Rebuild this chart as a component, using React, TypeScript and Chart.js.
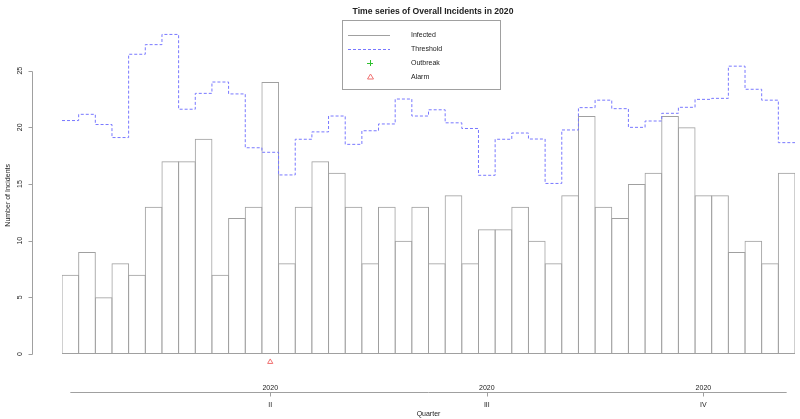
import React, { useEffect, useRef } from "react";
import { Chart, registerables } from "chart.js";

Chart.register(...registerables);

const chartTitle = "Time series of Overall Incidents in 2020";
const yAxisTitle = "Number of Incidents";
const xAxisTitle = "Quarter";

const infected = [7, 9, 5, 8, 7, 13, 17, 17, 19, 7, 12, 13, 24, 8, 13, 17, 16, 13, 8, 13, 10, 13, 8, 14, 8, 11, 11, 13, 10, 8, 14, 21, 13, 12, 15, 16, 21, 20, 14, 14, 9, 10, 8, 16];
const threshold = [20.6, 21.15, 20.25, 19.1, 26.45, 27.3, 28.2, 21.6, 23.0, 24.0, 22.95, 18.2, 17.8, 15.8, 18.95, 19.6, 21.0, 18.5, 19.7, 20.3, 22.5, 21.0, 21.55, 20.4, 19.9, 15.77, 18.95, 19.5, 18.97, 15.05, 19.77, 21.74, 22.4, 21.65, 20.0, 20.56, 21.24, 21.77, 22.47, 22.56, 25.4, 23.36, 22.4, 18.65];
const alarmWeeks = [13];
const outbreakWeeks: number[] = [];
const alarmLevel = -0.7;

const yTicks = [0, 5, 10, 15, 20, 25];
const quarterWeeks = [13, 26, 39];
const quarterLabels = ["II", "III", "IV"];
const yearLabels = ["2020", "2020", "2020"];

const legendLabels = ["Infected", "Threshold", "Outbreak", "Alarm"];

const GRAY = "#a0a0a0";
const BLUE = "#7878ff";
const GREEN = "#30c030";
const RED = "#f07070";
const TEXT = "#222";
const FONT = "7px 'Liberation Sans', Arial, sans-serif";

const axesPlugin = {
  id: "rAxes",
  afterDraw(chart: any) {
    const ctx = chart.ctx;
    const xs = chart.scales.x;
    const ys = chart.scales.y;
    ctx.save();
    ctx.strokeStyle = GRAY;
    ctx.lineWidth = 1;
    ctx.fillStyle = TEXT;
    ctx.font = FONT;

    // Y axis
    const axX = 32.5;
    const y0 = ys.getPixelForValue(yTicks[0]);
    const y1 = ys.getPixelForValue(yTicks[yTicks.length - 1]);
    ctx.beginPath();
    ctx.moveTo(axX, Math.round(y0) + 0.5);
    ctx.lineTo(axX, Math.round(y1) + 0.5);
    yTicks.forEach((t) => {
      const py = Math.round(ys.getPixelForValue(t)) + 0.5;
      ctx.moveTo(axX, py);
      ctx.lineTo(axX - 4, py);
    });
    ctx.stroke();
    yTicks.forEach((t) => {
      const py = ys.getPixelForValue(t);
      ctx.save();
      ctx.translate(20, py);
      ctx.rotate(-Math.PI / 2);
      ctx.textAlign = "center";
      ctx.textBaseline = "middle";
      ctx.fillText(String(t), 0, 0);
      ctx.restore();
    });
    ctx.save();
    ctx.translate(8, (ys.top + ys.bottom) / 2);
    ctx.rotate(-Math.PI / 2);
    ctx.textAlign = "center";
    ctx.textBaseline = "middle";
    ctx.fillText(yAxisTitle, 0, 0);
    ctx.restore();

    // X axis
    const lineY = 392.5;
    const xStart = xs.getPixelForValue(0.5);
    const xEnd = xs.getPixelForValue(infected.length - 0.5);
    ctx.beginPath();
    ctx.moveTo(xStart, lineY);
    ctx.lineTo(xEnd, lineY);
    quarterWeeks.forEach((w) => {
      const px = Math.round(xs.getPixelForValue(w - 0.5)) + 0.5;
      ctx.moveTo(px, lineY);
      ctx.lineTo(px, lineY + 4);
    });
    ctx.stroke();
    ctx.textAlign = "center";
    quarterWeeks.forEach((w, i) => {
      const px = xs.getPixelForValue(w - 0.5);
      ctx.textBaseline = "alphabetic";
      ctx.fillText(yearLabels[i], px, 390);
      ctx.textBaseline = "middle";
      ctx.fillText(quarterLabels[i], px, 405);
    });
    ctx.textBaseline = "middle";
    ctx.fillText(xAxisTitle, (xs.left + xs.right) / 2, 414);

    // Title
    ctx.font = "bold 8.6px 'Liberation Sans', Arial, sans-serif";
    ctx.fillText(chartTitle, 433, 12);

    // Legend
    ctx.font = FONT;
    ctx.strokeStyle = "#a0a0a0";
    ctx.strokeRect(342.5, 20.5, 158, 69);
    const rows = [35, 49, 63, 77];
    ctx.textAlign = "left";
    ctx.textBaseline = "middle";
    rows.forEach((ry, i) => {
      ctx.fillStyle = TEXT;
      ctx.fillText(legendLabels[i], 411, ry);
    });
    ctx.strokeStyle = GRAY;
    ctx.beginPath();
    ctx.moveTo(348, rows[0] + 0.5);
    ctx.lineTo(390, rows[0] + 0.5);
    ctx.stroke();
    ctx.strokeStyle = BLUE;
    ctx.setLineDash([3, 2]);
    ctx.beginPath();
    ctx.moveTo(348, rows[1] + 0.5);
    ctx.lineTo(390, rows[1] + 0.5);
    ctx.stroke();
    ctx.setLineDash([]);
    ctx.strokeStyle = GREEN;
    ctx.beginPath();
    ctx.moveTo(367, rows[2] + 0.5);
    ctx.lineTo(373, rows[2] + 0.5);
    ctx.moveTo(370.5, rows[2] - 3);
    ctx.lineTo(370.5, rows[2] + 3);
    ctx.stroke();
    ctx.strokeStyle = RED;
    ctx.beginPath();
    ctx.moveTo(370.5, rows[3] - 3);
    ctx.lineTo(373.5, rows[3] + 2);
    ctx.lineTo(367.5, rows[3] + 2);
    ctx.closePath();
    ctx.stroke();

    ctx.restore();
  },
};

export default function App() {
  const ref = useRef<HTMLCanvasElement>(null);
  useEffect(() => {
    if (!ref.current) return;
    const n = infected.length;
    const barData = infected.map((v, i) => ({ x: i + 0.5, y: v }));
    const thrData = threshold.map((v, i) => ({ x: i, y: v }));
    thrData.push({ x: n, y: threshold[n - 1] });
    const alarmData = alarmWeeks.map((w) => ({ x: w - 0.5, y: alarmLevel }));
    const outbreakData = outbreakWeeks.map((w) => ({ x: w - 0.5, y: alarmLevel }));
    const chart = new Chart(ref.current, {
      type: "bar",
      data: {
        datasets: [
          {
            type: "bar",
            label: legendLabels[0],
            data: barData,
            backgroundColor: "rgba(255,255,255,0)",
            borderColor: GRAY,
            borderWidth: 1,
            borderSkipped: false,
            inflateAmount: 0,
            barPercentage: 1.06,
            categoryPercentage: 1,
            order: 2,
          } as any,
          {
            type: "line",
            label: legendLabels[1],
            data: thrData,
            borderColor: BLUE,
            borderWidth: 1,
            borderDash: [3, 2],
            stepped: "before",
            pointRadius: 0,
            fill: false,
            order: 1,
          } as any,
          {
            type: "scatter",
            label: legendLabels[2],
            data: outbreakData,
            pointStyle: "cross",
            borderColor: GREEN,
            pointRadius: 3,
            order: 0,
          } as any,
          {
            type: "scatter",
            label: legendLabels[3],
            data: alarmData,
            pointStyle: "triangle",
            borderColor: RED,
            backgroundColor: "rgba(255,255,255,0)",
            borderWidth: 1,
            pointRadius: 3,
            order: 0,
          } as any,
        ],
      },
      options: {
        responsive: false,
        animation: false,
        devicePixelRatio: 1,
        layout: { padding: { left: 62, right: 1.5, top: 19.7, bottom: 48 } },
        plugins: { legend: { display: false }, tooltip: { enabled: false } },
        scales: {
          x: { type: "linear", min: 0, max: n, offset: false, display: false },
          y: { type: "linear", min: -1.5, max: 29.5, display: false },
        },
      } as any,
      plugins: [axesPlugin],
    });
    return () => chart.destroy();
  }, []);
  return (
    <div style={{ position: "absolute", left: 0, top: 0, width: 800, height: 419, background: "#fff" }}>
      <canvas ref={ref} width={800} height={419} />
    </div>
  );
}
